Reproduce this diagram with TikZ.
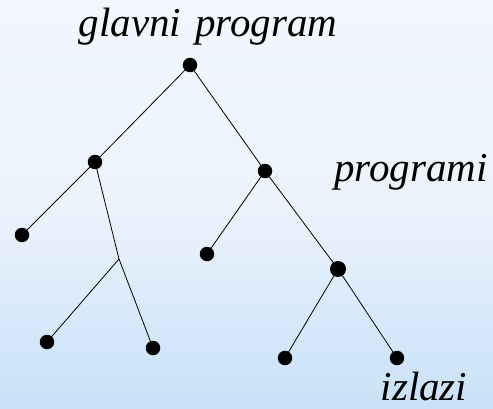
\documentclass[tikz,border=0pt]{standalone}
\usepackage{fontspec}
\setmainfont{Liberation Serif}
\definecolor{bgtop}{RGB}{242,247,254}
\definecolor{bgmid}{RGB}{236,243,252}
\definecolor{bgbot}{RGB}{200,225,248}
\begin{document}
\begin{tikzpicture}[x=1pt,y=-1pt,
  dot/.style={circle,fill=black,inner sep=0pt,minimum size=14.5pt},
  bigdot/.style={circle,fill=black,inner sep=0pt,minimum size=16pt},
  edge/.style={draw=black,line width=0.8pt},
  lbl/.style={font=\fontsize{41}{41}\selectfont\itshape,inner sep=0pt,anchor=base}]
\shade[top color=bgtop, bottom color=bgbot, middle color=bgmid] (0,0) rectangle (493,409);
\useasboundingbox (0,0) rectangle (493,409);
\node[dot] (r) at (190,65) {};
\node[dot] (a) at (95,162) {};
\node[dot] (b) at (265,171) {};
\node[dot] (al) at (22,235) {};
\coordinate (j) at (119,259);
\node[dot] (jl) at (47,342) {};
\node[dot] (jr) at (153,348) {};
\node[dot] (bl) at (207,254) {};
\node[bigdot] (c) at (338,269) {};
\node[dot] (cl) at (285,358) {};
\node[dot] (cr) at (397,358) {};
\draw[edge] (r.center) -- (a.center);
\draw[edge] (r.center) -- (b.center);
\draw[edge] (a.center) -- (al.center);
\draw[edge] (a.center) -- (j) -- (jr.center);
\draw[edge] (j) -- (jl.center);
\draw[edge] (b.center) -- (bl.center);
\draw[edge] (b.center) -- (c.center);
\draw[edge] (c.center) -- (cl.center);
\draw[edge] (c.center) -- (cr.center);
\node[lbl] (t1) at (208,37) {glavni\hspace{4pt} program};
\node[lbl] (t2) at (411,182) {programi};
\node[lbl] (t3) at (424,400) {izlazi};
\end{tikzpicture}
\end{document}
